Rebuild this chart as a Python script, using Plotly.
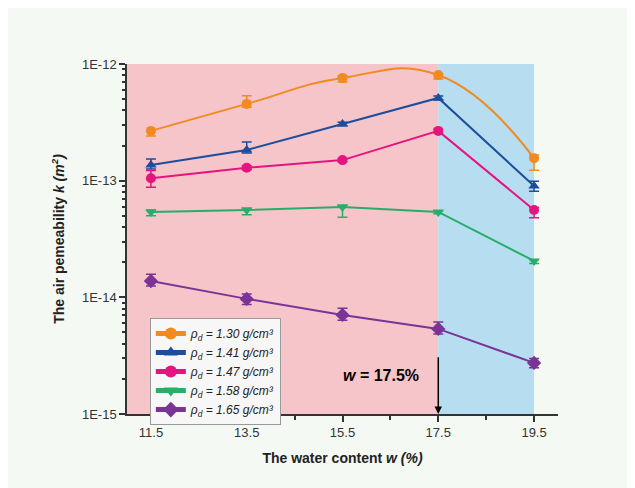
import plotly.graph_objects as go

# ---------------- data ----------------
water = [11.5, 13.5, 15.5, 17.5, 19.5]

k_130 = [2.67e-13, 4.55e-13, 7.6e-13, 8.05e-13, 1.56e-13]
k_141 = [1.36e-13, 1.83e-13, 3.06e-13, 5.12e-13, 9.0e-14]
k_147 = [1.05e-13, 1.29e-13, 1.50e-13, 2.67e-13, 5.6e-14]
k_158 = [5.4e-14, 5.6e-14, 5.96e-14, 5.4e-14, 2.05e-14]
k_165 = [1.38e-14, 9.7e-15, 7.06e-15, 5.36e-15, 2.74e-15]

err_130_plus = [0.0, 0.8e-13, 0.3e-13, 0.2e-13, 0.1e-13]
err_130_minus = [0.26e-13, 0.3e-13, 0.6e-13, 0.6e-13, 0.33e-13]
err_141_plus = [0.17e-13, 0.32e-13, 0.1e-13, 0.2e-13, 0.09e-13]
err_141_minus = [0.1e-13, 0.1e-13, 0.1e-13, 0.2e-13, 0.09e-13]
err_147_plus = [0.17e-13, 0.05e-13, 0.05e-13, 0.1e-13, 0.3e-14]
err_147_minus = [0.17e-13, 0.05e-13, 0.05e-13, 0.1e-13, 0.8e-14]
err_158_plus = [0.2e-14, 0.2e-14, 0.2e-14, 0.1e-14, 0.05e-14]
err_158_minus = [0.4e-14, 0.5e-14, 1.1e-14, 0.2e-14, 0.1e-14]
err_165_plus = [2.0e-15, 1.0e-15, 1.0e-15, 0.8e-15, 0.25e-15]
err_165_minus = [1.3e-15, 1.0e-15, 0.7e-15, 0.5e-15, 0.25e-15]

labels = ["1.30", "1.41", "1.47", "1.58", "1.65"]
y_tickvals = [1e-15, 1e-14, 1e-13, 1e-12]
y_ticktext = ["1E-15", "1E-14", "1E-13", "1E-12"]
x_ticks = [11.5, 13.5, 15.5, 17.5, 19.5]
x_minor = [12.5, 14.5, 16.5, 18.5]

# ---------------- styles ----------------
series = [
    (k_130, err_130_plus, err_130_minus, "#F18A21", "circle", "spline"),
    (k_141, err_141_plus, err_141_minus, "#1C4E9D", "triangle-up", "linear"),
    (k_147, err_147_plus, err_147_minus, "#E5147E", "circle", "linear"),
    (k_158, err_158_plus, err_158_minus, "#27AE6A", "triangle-down", "linear"),
    (k_165, err_165_plus, err_165_minus, "#7A3496", "diamond", "linear"),
]

FONT = "Liberation Sans, Arial, sans-serif"
BG = "#F5F9F4"

fig = go.Figure()

for (vals, ep, em, col, sym, shape), lab in zip(series, labels):
    fig.add_trace(go.Scatter(
        x=water, y=vals, mode="lines+markers",
        name=f"<i>ρ<sub>d</sub> = {lab} g/cm³</i>",
        line=dict(color=col, width=2, shape=shape, smoothing=1.3),
        marker=dict(color=col, symbol=sym, size=10 if sym != "diamond" else 11),
        error_y=dict(type="data", symmetric=False, array=ep, arrayminus=em,
                     color=col, thickness=1.5, width=5),
    ))

# background regions
fig.add_shape(type="rect", xref="x", yref="paper", x0=11, x1=17.5, y0=0, y1=1,
              fillcolor="#F6C5CA", line_width=0, layer="below")
fig.add_shape(type="rect", xref="x", yref="paper", x0=17.5, x1=19.5, y0=0, y1=1,
              fillcolor="#B7DDF1", line_width=0, layer="below")

# annotation and arrow
fig.add_annotation(x=16.3, y=-14.67, xref="x", yref="y",
                   text="<b><i>w</i> = 17.5%</b>", showarrow=False,
                   font=dict(family=FONT, size=16, color="black"))
fig.add_annotation(x=17.5, y=-15, ax=17.5, ay=-14.5, xref="x", yref="y",
                   axref="x", ayref="y", text="", showarrow=True,
                   arrowhead=2, arrowsize=1, arrowwidth=1.5, arrowcolor="black")

fig.update_layout(
    width=635, height=488,
    margin=dict(l=119, r=85, t=56, b=82),
    paper_bgcolor=BG, plot_bgcolor=BG,
    font=dict(family=FONT, size=13, color="#222"),
    showlegend=True,
    legend=dict(x=0.053, y=0.274, xanchor="left", yanchor="top",
                bgcolor="#F7F7F7", bordercolor="#999", borderwidth=1,
                font=dict(family=FONT, size=12), tracegroupgap=0,
                itemsizing="constant", itemwidth=30),
)

fig.update_xaxes(
    range=[11, 20], tickvals=x_ticks, ticktext=[str(v) for v in x_ticks],
    ticks="outside", ticklen=6, tickwidth=1.5, tickcolor="#333",
    showline=True, linecolor="#333", linewidth=1.5, showgrid=False, zeroline=False,
    minor=dict(tickvals=x_minor, ticks="outside", ticklen=4, tickcolor="#333", showgrid=False),
    title=dict(text="<b>The water content <i>w</i> <i>(%)</i></b>", font=dict(size=14), standoff=14),
    tickfont=dict(size=13, color="#333"),
)

y_minor = [m * d for d in [1e-15, 1e-14, 1e-13] for m in range(2, 10)]
fig.update_yaxes(
    type="log", range=[-15, -12], tickvals=y_tickvals, ticktext=y_ticktext,
    ticks="outside", ticklen=6, tickwidth=1.5, tickcolor="#333",
    showline=True, linecolor="#333", linewidth=1.5, showgrid=False, zeroline=False,
    minor=dict(tickvals=y_minor, ticks="outside", ticklen=3, tickcolor="#333", showgrid=False),
    title=dict(text="<b>The air pemeability <i>k</i> <i>(m<sup>2</sup>)</i></b>", font=dict(size=14), standoff=14),
    tickfont=dict(size=13, color="#333"),
)

fig.write_html("out.html")
